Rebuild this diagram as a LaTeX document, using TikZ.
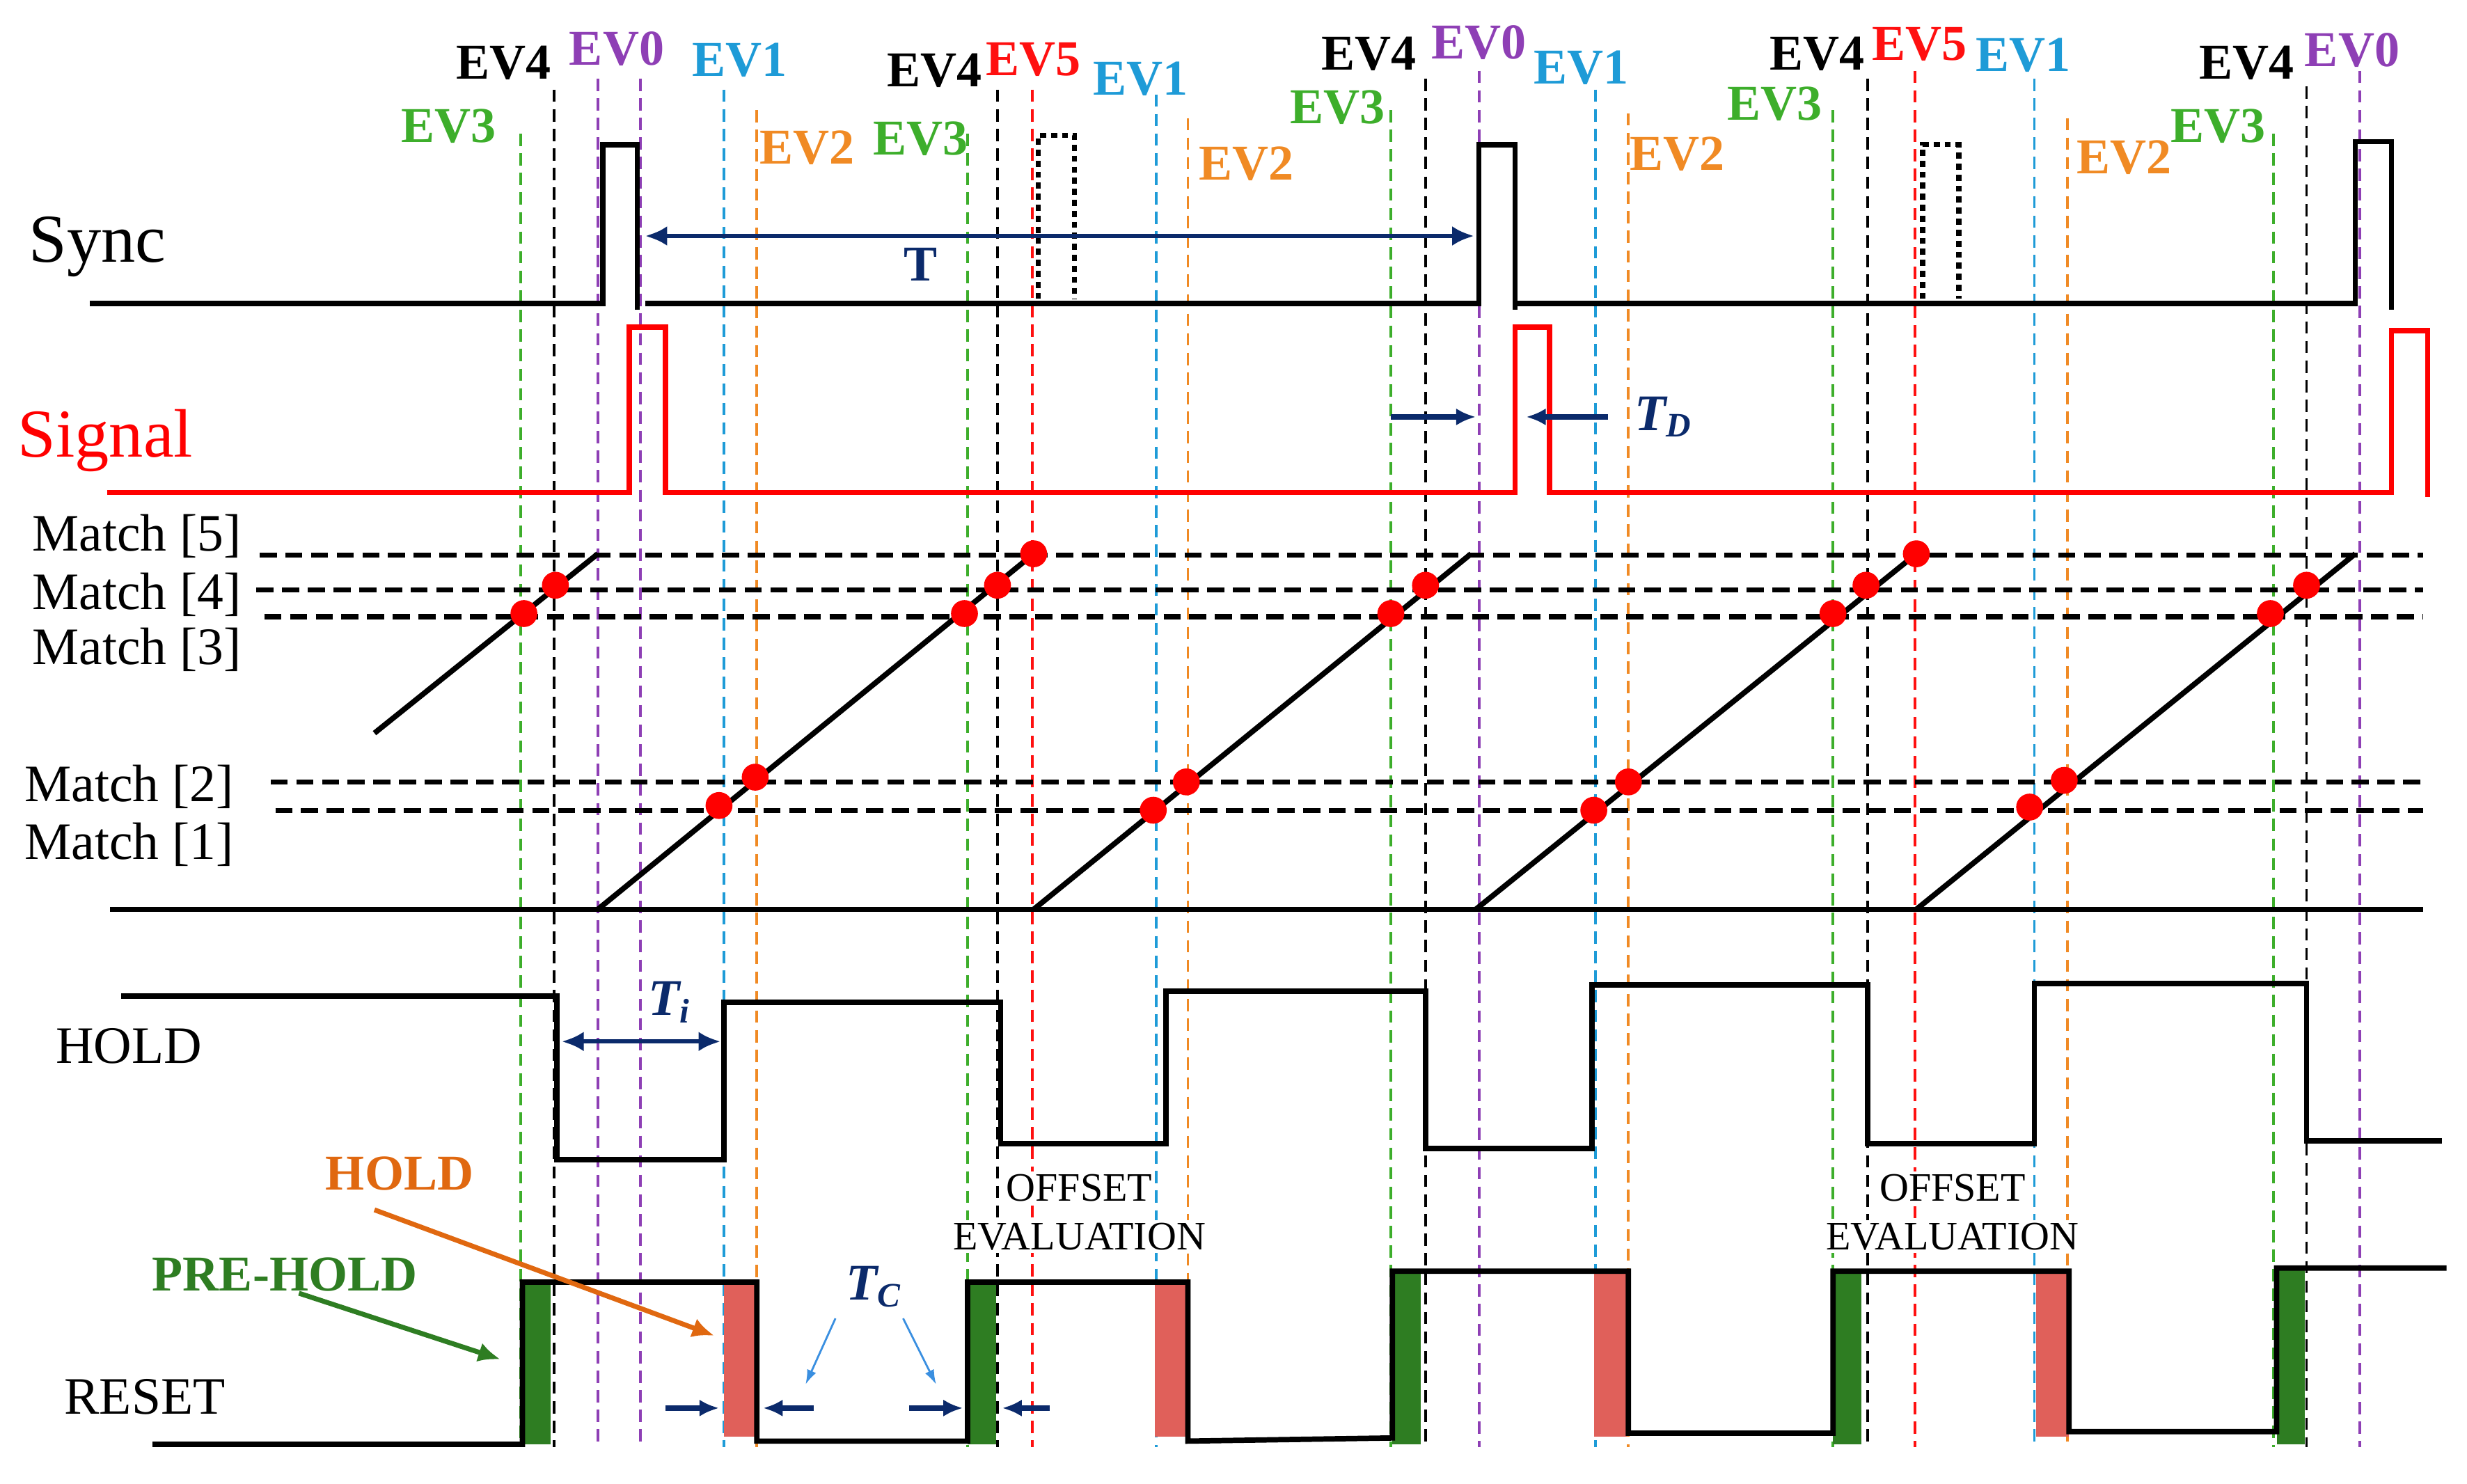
\documentclass[tikz,border=0pt]{standalone}
\usepackage{fontspec}
\setmainfont{Liberation Serif}
\begin{document}
\definecolor{evg}{HTML}{3DAE2B}
\definecolor{evo}{HTML}{F08A24}
\definecolor{evb}{HTML}{1E9BD7}
\definecolor{evp}{HTML}{8E3FB5}
\definecolor{evr}{HTML}{FF1010}
\definecolor{navy}{HTML}{0B2A6B}
\definecolor{dgreen}{HTML}{2E7D22}
\definecolor{salmon}{HTML}{E0605A}
\definecolor{hold}{HTML}{E06810}
\definecolor{tcb}{HTML}{3A8FE0}
\begin{tikzpicture}[x=0.0226cm,y=-0.0226cm,
  vl/.style={line width=1.1pt,dash pattern=on 5pt off 3pt},
  sig/.style={line width=2.2pt,line join=miter},
  mt/.style={line width=2pt,dash pattern=on 7pt off 3.5pt},
  ev/.style={font=\fontsize{20.5}{20.5}\selectfont\bfseries,inner sep=0pt},
  lab/.style={font=\fontsize{21.5}{21.5}\selectfont,inner sep=0pt},
  dot/.style={circle,fill=red,inner sep=0pt,minimum size=11pt},
  nav/.style={navy,line width=2.2pt,-{Latex[length=8pt,width=7pt]}},
  dbl/.style={navy,line width=1.8pt,{Latex[length=9pt,width=8pt]}-{Latex[length=9pt,width=8pt]}}]
\usetikzlibrary{arrows.meta}
\useasboundingbox (0,0) rectangle (1568,943);
% vertical event lines
\foreach \x/\t/\c in {331/85/evg,352/57/black,380/50/evp,407/50/evp,460/57/evb,481/70/evo,
  615/85/evg,634/57/black,656/57/evr,735/60/evb,755/75/evo,
  884/70/evg,906/50/black,940/45/evp,1014/57/evb,1035/72/evo,
  1165/70/evg,1187/50/black,1217/45/evr,1293/50/evb,1314/75/evo,
  1445/85/evg,1466/55/black,1500/45/evp}
  {\draw[vl,\c] (\x,\t) -- (\x,920);}
% labels
\foreach \x/\y/\c/\t in {320/40/black/EV4,392/31/evp/EV0,470/38/evb/EV1,285/80/evg/EV3,513/94/evo/EV2,
  594/45/black/EV4,657/38/evr/EV5,725/50/evb/EV1,585/88/evg/EV3,792/104/evo/EV2,
  870/34/black/EV4,940/27/evp/EV0,1005/43/evb/EV1,850/68/evg/EV3,1066/98/evo/EV2,
  1155/34/black/EV4,1220/28/evr/EV5,1286/35/evb/EV1,1128/66/evg/EV3,1350/100/evo/EV2,
  1428/40/black/EV4,1495/32/evp/EV0,1410/80/evg/EV3}
  {\node[ev,text=\c] at (\x,\y) {\t};}
% Sync
\node[font=\fontsize{28}{28}\selectfont,inner sep=0pt] (sync) at (62,157) {Sync};
\draw[sig] (57,193) -- (383,193) -- (383,92) -- (405,92) -- (405,197);
\draw[sig] (410,193) -- (940,193) -- (940,92) -- (963,92) -- (963,197);
\draw[sig] (963,193) -- (1497,193) -- (1497,90) -- (1520,90) -- (1520,197);
\draw[line width=2pt,dash pattern=on 2.5pt off 2pt] (660,190) -- (660,86) -- (683,86) -- (683,190);
\draw[line width=2pt,dash pattern=on 2.5pt off 2pt] (1222,190) -- (1222,92) -- (1245,92) -- (1245,190);
\coordinate (ta) at (410,150); \coordinate (tb) at (937,150);
\draw[dbl] (ta) -- (tb);
\node[navy,font=\fontsize{20.5}{20.5}\selectfont\bfseries,inner sep=0pt] (T) at (585,168) {T};
% Signal
\node[red,font=\fontsize{28}{28}\selectfont,inner sep=0pt] (signal) at (67,280) {Signal};
\draw[sig,red] (68,313) -- (400,313) -- (400,208) -- (423,208) -- (423,313) -- (963,313) -- (963,208) -- (985,208) -- (985,313) -- (1520,313) -- (1520,210) -- (1543,210) -- (1543,316);
\coordinate (d1) at (884,265); \coordinate (d2) at (938,265);
\coordinate (d3) at (1022,265); \coordinate (d4) at (970,265);
\draw[nav] (d1) -- (d2); \draw[nav] (d3) -- (d4);
\node[navy,font=\fontsize{21}{21}\selectfont\bfseries\itshape,inner sep=0pt] (TD) at (1057,265) {T\raisebox{-0.25ex}{\fontsize{14}{14}\selectfont D}};
% Match lines
\draw[mt] (165,353) -- (1540,353);
\draw[mt] (163,375) -- (1540,375);
\draw[mt] (168,392) -- (1540,392);
\draw[mt] (172,497) -- (1540,497);
\draw[mt] (175,515) -- (1540,515);
\foreach \y/\n in {341/5,378/4,413/3}{\node[lab] at (87,\y) {Match [\n]};}
\foreach \y/\n in {500/2,537/1}{\node[lab] at (82,\y) {Match [\n]};}
% ramps
\draw[sig] (70,578) -- (1540,578);
\draw[sig] (238,466) -- (380,352);
\draw[sig] (380,578) -- (657,352);
\draw[sig] (657,578) -- (935,352);
\draw[sig] (938,578) -- (1218,352);
\draw[sig] (1218,578) -- (1497,352);
\foreach \x/\y in {333/390,353/372,457/512,480/494,613/390,634/372,657/352,
  733/515,754/497,884/390,906/372,1013/515,1035/497,1165/390,1186/372,1218/352,
  1290/513,1312/496,1443/390,1466/372}
  {\node[dot] at (\x,\y) {};}
% HOLD
\node[lab] (holdl) at (82,665) {HOLD};
\draw[sig] (77,633) -- (354,633) -- (354,737) -- (460,737) -- (460,637) -- (636,637) -- (636,727) -- (741,727) -- (741,630) -- (906,630) -- (906,730) -- (1012,730) -- (1012,626) -- (1187,626) -- (1187,727) -- (1293,727) -- (1293,625) -- (1466,625) -- (1466,725) -- (1552,725);
\coordinate (ti1) at (357,662); \coordinate (ti2) at (458,662);
\draw[dbl] (ti1) -- (ti2);
\node[navy,font=\fontsize{21}{21}\selectfont\bfseries\itshape,inner sep=0pt] (Ti) at (425,637) {T\raisebox{-0.3ex}{\fontsize{14}{14}\selectfont i}};
% RESET bars
\foreach \x/\t in {332/815,615/815,885/808,1165/808,1447/806}{\fill[dgreen] (\x,\t) rectangle (\x+18,918);}
\foreach \x/\t in {460/815,734/815,1013/808,1294/808}{\fill[salmon] (\x,\t) rectangle (\x+21,913);}
\draw[sig] (97,918) -- (332,918) -- (332,815) -- (481,815) -- (481,916) -- (615,916) -- (615,815) -- (755,815) -- (755,916) -- (885,914) -- (885,808) -- (1035,808) -- (1035,911) -- (1165,911) -- (1165,808) -- (1315,808) -- (1315,910) -- (1447,910) -- (1447,806) -- (1555,806);
\node[lab] (reset) at (92,888) {RESET};
\node[dgreen,font=\fontsize{20.5}{20.5}\selectfont\bfseries,inner sep=0pt] (ph) at (181,810) {PRE-HOLD};
\node[hold,font=\fontsize{20.5}{20.5}\selectfont\bfseries,inner sep=0pt] (hl) at (254,746) {HOLD};
\coordinate (pha) at (190,822); \coordinate (phb) at (318,864);
\draw[dgreen,line width=2pt,-{Latex[length=9pt,width=8pt]}] (pha) -- (phb);
\coordinate (hla) at (238,769); \coordinate (hlb) at (454,849);
\draw[hold,line width=2pt,-{Latex[length=9pt,width=8pt]}] (hla) -- (hlb);
\node[navy,font=\fontsize{21}{21}\selectfont\bfseries\itshape,inner sep=0pt] (Tc) at (555,818) {T\raisebox{-0.3ex}{\fontsize{14}{14}\selectfont C}};
\coordinate (c1) at (531,838); \coordinate (c2) at (512,880);
\coordinate (c3) at (574,838); \coordinate (c4) at (595,880);
\draw[tcb,line width=0.8pt,-{Latex[length=6pt,width=4pt]}] (c1) -- (c2);
\draw[tcb,line width=0.8pt,-{Latex[length=6pt,width=4pt]}] (c3) -- (c4);
\coordinate (a1) at (423,895); \coordinate (a2) at (457,895);
\coordinate (a3) at (517,895); \coordinate (a4) at (485,895);
\coordinate (a5) at (578,895); \coordinate (a6) at (612,895);
\coordinate (a7) at (667,895); \coordinate (a8) at (637,895);
\draw[nav] (a1) -- (a2); \draw[nav] (a3) -- (a4); \draw[nav] (a5) -- (a6); \draw[nav] (a7) -- (a8);
% offset evaluation
\foreach \x in {686,1241}{
  \node[fill=white,font=\fontsize{16.5}{16.5}\selectfont,inner sep=1pt] at (\x,755) {OFFSET};
  \node[fill=white,font=\fontsize{16.5}{16.5}\selectfont,inner sep=1pt] at (\x,786) {EVALUATION};}
\end{tikzpicture}
\end{document}
